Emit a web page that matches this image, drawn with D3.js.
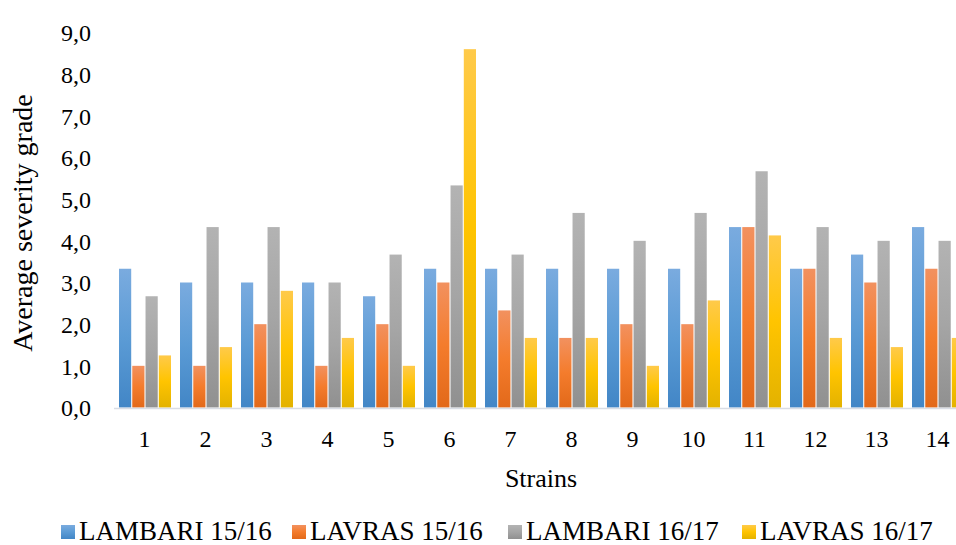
<!DOCTYPE html>
<html>
<head>
<meta charset="utf-8">
<script src="https://cdn.jsdelivr.net/npm/d3@7"></script>
<style>
  html, body { margin: 0; padding: 0; background: #fff; overflow: hidden; }
  svg { display: block; }
  svg text { font-family: "Liberation Serif", Tinos, "Times New Roman", "Nimbus Roman", "DejaVu Serif", serif !important; fill: #000; }
</style>
</head>
<body>
<svg id="chart" width="956" height="545"></svg>
<script>
const categories = ["1","2","3","4","5","6","7","8","9","10","11","12","13","14"];
const seriesNames = ["LAMBARI 15/16","LAVRAS 15/16","LAMBARI 16/17","LAVRAS 16/17"];
const lambari1516 = [3.33,3.00,3.00,3.00,2.67,3.33,3.33,3.33,3.33,3.33,4.33,3.33,3.67,4.33];
const lavras1516  = [1.00,1.00,2.00,1.00,2.00,3.00,2.33,1.67,2.00,2.00,4.33,3.33,3.00,3.33];
const lambari1617 = [2.67,4.33,4.33,3.00,3.67,5.33,3.67,4.67,4.00,4.67,5.67,4.33,4.00,4.00];
const lavras1617  = [1.25,1.45,2.80,1.67,1.00,8.60,1.67,1.67,1.00,2.57,4.13,1.67,1.45,1.67];
const yTicks = [0,1,2,3,4,5,6,7,8,9];

const seriesValues = [lambari1516, lavras1516, lambari1617, lavras1617];
const gradStops = [
  ["#7aabdf","#5b9bd5","#4286c6"],
  ["#f2915f","#f47c2c","#e2691a"],
  ["#b3b3b3","#a5a5a5","#909090"],
  ["#ffca4a","#ffc400","#e3b200"]
];

const svg = d3.select("#chart");
const defs = svg.append("defs");
gradStops.forEach((s, i) => {
  const g = defs.append("linearGradient").attr("id", "g" + i)
    .attr("x1", 0).attr("y1", 0).attr("x2", 0).attr("y2", 1);
  g.append("stop").attr("offset", "0%").attr("stop-color", s[0]);
  g.append("stop").attr("offset", "50%").attr("stop-color", s[1]);
  g.append("stop").attr("offset", "100%").attr("stop-color", s[2]);
});

const x0 = d3.scaleBand().domain(categories).range([114, 114 + 14 * 61]).padding(0);
const x1 = d3.scaleBand().domain(d3.range(4)).range([5, 57]).paddingInner(0.08);
const y = d3.scaleLinear().domain([0, 9]).range([407.5, 32.5]);

const groups = svg.append("g").selectAll("g").data(categories).join("g")
  .attr("transform", d => `translate(${x0(d)},0)`);
groups.selectAll("rect").data((d, ci) => seriesValues.map((arr, si) => ({ si, v: arr[ci] })))
  .join("rect")
  .attr("x", d => x1(d.si))
  .attr("width", x1.bandwidth())
  .attr("y", d => y(d.v))
  .attr("height", d => y(0) - y(d.v))
  .attr("fill", d => `url(#g${d.si})`);

// x axis line
svg.append("line").attr("x1", 114).attr("x2", 968).attr("y1", 408.5).attr("y2", 408.5)
  .attr("stroke", "#d9dde5").attr("stroke-width", 1.5);

// y axis labels
const yAxis = d3.axisLeft(y).tickValues(yTicks).tickSize(0).tickPadding(0)
  .tickFormat(d => d3.format(".1f")(d).replace(".", ","));
const gy = svg.append("g").attr("transform", "translate(91,0)").call(yAxis);
gy.select(".domain").remove();
gy.selectAll("text").attr("font-size", 24).attr("fill", "#000").attr("dy", "0.34em");

// x axis labels
const xAxis = d3.axisBottom(x0).tickSize(0).tickPadding(0);
const gx = svg.append("g").attr("transform", "translate(0,430)").call(xAxis);
gx.select(".domain").remove();
gx.selectAll("text").attr("font-size", 24).attr("fill", "#000").attr("dy", "0.72em");

// axis titles
svg.append("text").attr("x", 541).attr("y", 487).attr("text-anchor", "middle")
  .attr("font-size", 26).text("Strains");
svg.append("text").attr("transform", "translate(32,223) rotate(-90)")
  .attr("text-anchor", "middle").attr("font-size", 28).text("Average severity grade");

// legend
const legX = [61, 292, 508, 742];
const leg = svg.append("g").selectAll("g").data(seriesNames).join("g")
  .attr("transform", (d, i) => `translate(${legX[i]},525)`);
leg.append("rect").attr("width", 14).attr("height", 14).attr("fill", (d, i) => `url(#g${i})`);
leg.append("text").attr("x", 18).attr("y", 14.5).attr("font-size", 27).text(d => d);
</script>
</body>
</html>
